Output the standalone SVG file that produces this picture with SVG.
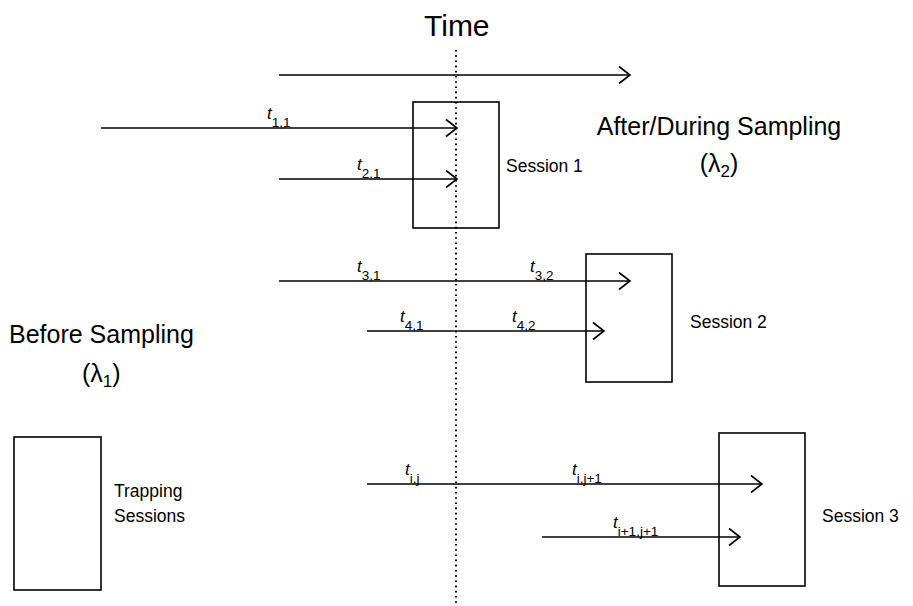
<svg xmlns="http://www.w3.org/2000/svg" width="913" height="606" viewBox="0 0 913 606">
<defs>
<style>
.ln{stroke:#000;stroke-width:1.5;fill:none}
.bx{stroke:#000;stroke-width:1.6;fill:none}
.tx{font-family:"Liberation Sans",Arial,sans-serif;fill:#000}
.lb{font-family:"Liberation Sans",Arial,sans-serif;font-size:17px;font-style:italic;fill:#000}
.sb{font-size:13.5px;font-style:normal}
</style>
<marker id="ah" markerUnits="userSpaceOnUse" markerWidth="16" markerHeight="20" viewBox="-13 -10 15 20" refX="0" refY="0" orient="auto">
<path d="M-11,-8.5 L0,0 L-11,8.5" fill="none" stroke="#000" stroke-width="1.6"/>
</marker>
</defs>
<rect width="913" height="606" fill="#fff"/>
<g id="timeline">
<line x1="456" y1="50" x2="456" y2="606" stroke="#000" stroke-width="2" stroke-dasharray="1.6 3.6"/>
</g>
<g id="connectors">
<line class="ln" x1="279" y1="75" x2="630" y2="75" marker-end="url(#ah)"/>
<line class="ln" x1="101" y1="128" x2="457" y2="128" marker-end="url(#ah)"/>
<line class="ln" x1="279" y1="179" x2="457" y2="179" marker-end="url(#ah)"/>
<line class="ln" x1="279" y1="281" x2="630" y2="281" marker-end="url(#ah)"/>
<line class="ln" x1="367" y1="331" x2="604" y2="331" marker-end="url(#ah)"/>
<line class="ln" x1="367" y1="484" x2="762" y2="484" marker-end="url(#ah)"/>
<line class="ln" x1="542" y1="537" x2="740" y2="537" marker-end="url(#ah)"/>
</g>
<g id="labels">
<text class="lb" x="267" y="119">t<tspan class="sb" dy="8">1,1</tspan></text>
<text class="lb" x="357" y="170">t<tspan class="sb" dy="8">2,1</tspan></text>
<text class="lb" x="357" y="272">t<tspan class="sb" dy="8">3,1</tspan></text>
<text class="lb" x="530" y="272">t<tspan class="sb" dy="8">3,2</tspan></text>
<text class="lb" x="400" y="322">t<tspan class="sb" dy="8">4,1</tspan></text>
<text class="lb" x="512" y="322">t<tspan class="sb" dy="8">4,2</tspan></text>
<text class="lb" x="405" y="475">t<tspan class="sb" dy="8">i,j</tspan></text>
<text class="lb" x="572" y="475">t<tspan class="sb" dy="8">i,j+1</tspan></text>
<text class="lb" x="613" y="528">t<tspan class="sb" dy="8">i+1,j+1</tspan></text>
</g>
<g id="title"><text class="tx" x="424" y="36" font-size="30">Time</text></g>
<g id="after"><text class="tx" x="719" y="135" font-size="25" text-anchor="middle">After/During Sampling</text>
<text class="tx" x="719" y="172" font-size="25" text-anchor="middle">(λ<tspan font-size="17" dy="5">2</tspan><tspan dy="-5">)</tspan></text></g>
<g id="before"><text class="tx" x="9" y="343" font-size="25">Before Sampling</text>
<text class="tx" x="82" y="382" font-size="25">(λ<tspan font-size="17" dy="5">1</tspan><tspan dy="-5">)</tspan></text></g>
<g id="session1"><rect class="bx" x="413" y="102" width="86" height="126"/><text class="tx" x="506" y="172" font-size="17.5">Session 1</text></g>
<g id="session2"><rect class="bx" x="586" y="254" width="86" height="128"/><text class="tx" x="690" y="328" font-size="17.5">Session 2</text></g>
<g id="session3"><rect class="bx" x="719" y="433" width="86" height="153"/><text class="tx" x="822" y="522" font-size="17.5">Session 3</text></g>
<g id="trapping"><rect class="bx" x="14" y="437" width="87" height="153"/><text class="tx" x="114" y="497" font-size="17.5">Trapping</text><text class="tx" x="114" y="522" font-size="17.5">Sessions</text></g>
</svg>
